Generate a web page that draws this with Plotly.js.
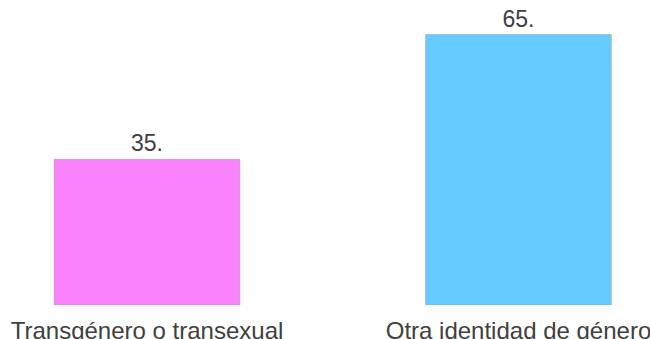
<!DOCTYPE html>
<html>
<head>
<meta charset="utf-8">
<script src="https://cdn.plot.ly/plotly-3.0.1.min.js"></script>
<style>html,body{margin:0;padding:0;background:#fff;}#chart{width:650px;height:339px;}</style>
</head>
<body>
<div id="chart"></div>
<script>
const categories = ["Transgénero o transexual", "Otra identidad de género"];
const values = [35, 65];
const valueLabels = ["35.", "65."];
const barColors = ["#FA82FA", "#66CCFF"];

const trace = {
  type: "bar",
  x: categories,
  y: values,
  text: valueLabels,
  textposition: "outside",
  cliponaxis: false,
  textfont: {family: "Liberation Sans, Arial, sans-serif", size: 23, color: "#404040"},
  marker: {color: barColors, line: {color: "rgba(150,150,150,0.45)", width: 1}},
  width: 0.5,
  hoverinfo: "none"
};

const layout = {
  width: 650,
  height: 339,
  margin: {l: 0, r: 0, t: 0, b: 34, pad: 0},
  paper_bgcolor: "#ffffff",
  plot_bgcolor: "#ffffff",
  showlegend: false,
  font: {family: "Liberation Sans, Arial, sans-serif", color: "#404040"},
  xaxis: {
    range: [-0.3957, 1.354],
    showgrid: false, zeroline: false, showline: false, ticks: "",
    ticklabelstandoff: 9,
    tickfont: {size: 24, color: "#404040"},
    fixedrange: true
  },
  yaxis: {
    range: [0, 73.3],
    visible: false,
    showgrid: false, zeroline: false,
    fixedrange: true
  }
};

Plotly.newPlot("chart", [trace], layout, {displayModeBar: false, staticPlot: true});
</script>
</body>
</html>
